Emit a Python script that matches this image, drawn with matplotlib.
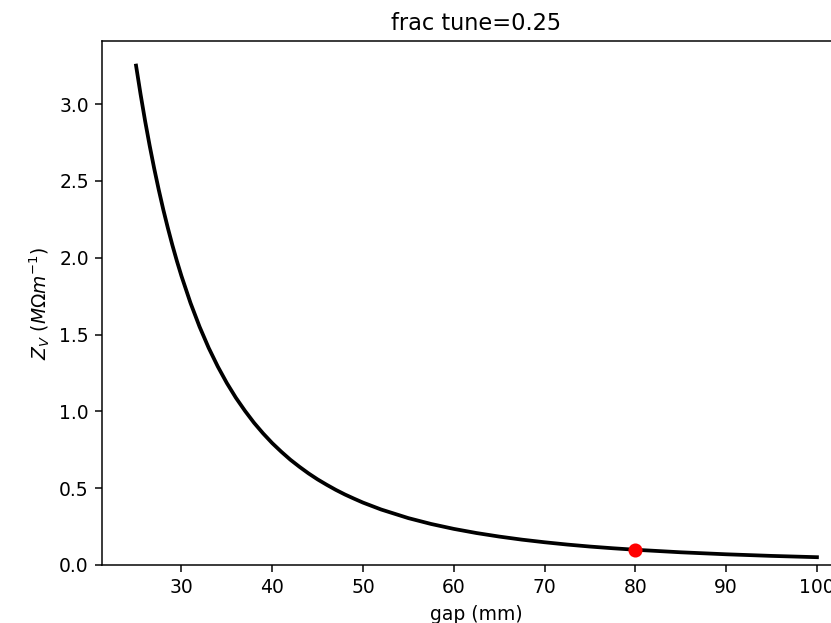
import numpy as np
import matplotlib
matplotlib.use('Agg')
import matplotlib.pyplot as plt

# impedance vs gap
gap_mm = [25, 25.5, 26, 26.5, 27, 27.5, 28, 28.5, 29, 29.5, 30, 31, 32, 33, 34,
          35, 36, 37, 38, 39, 40, 41, 42, 43, 44, 45, 46, 47, 48, 49, 50, 52,
          55, 57.5, 60, 62.5, 65, 67.5, 70, 72.5, 75, 77.5, 80, 85, 90, 95, 100]
z_v = [3.25, 3.063, 2.889, 2.729, 2.580, 2.442, 2.313, 2.194, 2.082, 1.978,
       1.881, 1.705, 1.550, 1.413, 1.292, 1.184, 1.088, 1.003, 0.925, 0.856,
       0.793, 0.737, 0.685, 0.639, 0.596, 0.557, 0.522, 0.489, 0.459, 0.432,
       0.406, 0.361, 0.305, 0.267, 0.235, 0.208, 0.185, 0.165, 0.148, 0.133,
       0.120, 0.109, 0.0992, 0.0827, 0.0697, 0.0592, 0.0508]

chosen_gap = 80
chosen_z = 0.0992
frac_tune = 0.25

fig = plt.figure(figsize=(831/135, 623/135), dpi=135)
ax = fig.add_axes([102/831, 58/623, 749/831, 524/623])

ax.plot(gap_mm, z_v, color='black', linewidth=2)
ax.plot(chosen_gap, chosen_z, 'o', color='red', markersize=6.5)

ax.set_xlim(21.25, 103.75)
ax.set_ylim(0, 3.41)
ax.set_xticks([30, 40, 50, 60, 70, 80, 90, 100])
ax.set_xlabel('gap (mm)')
ax.set_ylabel(r'$Z_V$ ($M\Omega m^{-1}$)')
ax.set_title(f'frac tune={frac_tune}')

fig.savefig('out.png', dpi=135)
